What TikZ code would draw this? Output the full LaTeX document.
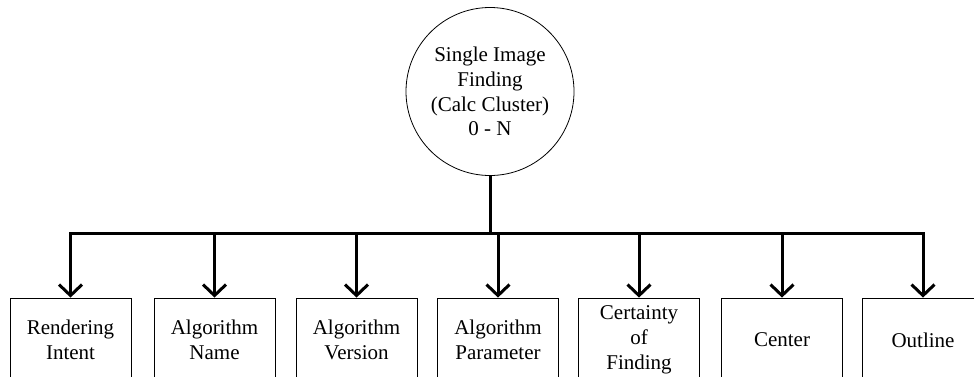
\documentclass[tikz,border=0pt]{standalone}
\usepackage{fontspec}
\setmainfont{Liberation Serif}
\usetikzlibrary{arrows.meta}
\begin{document}
\begin{tikzpicture}[x=1pt,y=-1pt,
  txt/.style={align=center,font=\fontsize{21}{24.8}\selectfont,inner sep=0pt},
  rootnode/.style={txt,draw,circle,line width=0.8pt,minimum size=168pt},
  leaf/.style={txt,draw,line width=0.8pt,minimum width=121pt,minimum height=84pt},
  arr/.style={line width=3pt,-{Straight Barb[length=11pt,width=23pt,line width=3pt]}},
  bar/.style={line width=3pt}]
\useasboundingbox (0,0) rectangle (974,376);
\clip (0,0) rectangle (974,376);
\node[rootnode] (root) at (490,91.5) {Single Image\\Finding\\(Calc Cluster)\\0 - N};
\node[leaf] (b1) at (70.5,340) {Rendering\\Intent};
\node[leaf] (b2) at (214.5,340) {Algorithm\\Name};
\node[leaf] (b3) at (356.5,340) {Algorithm\\Version};
\node[leaf] (b4) at (498,340) {Algorithm\\Parameter};
\node[leaf] (b5) at (639,340) {Certainty\\of\\Finding};
\node[leaf] (b6) at (782,340) {Center};
\node[leaf] (b7) at (923,340) {Outline};
\coordinate (j) at (490,233);
\coordinate (bl) at (70.5,233);
\coordinate (br) at (923,233);
\draw[bar] (root.south) -- (j);
\draw[bar,line cap=rect] (bl) -- (br);
\foreach \b in {b1,b2,b3,b4,b5,b6,b7}{
  \draw[arr] (\b.north |- j) -- (\b.north);
}
\end{tikzpicture}
\end{document}
